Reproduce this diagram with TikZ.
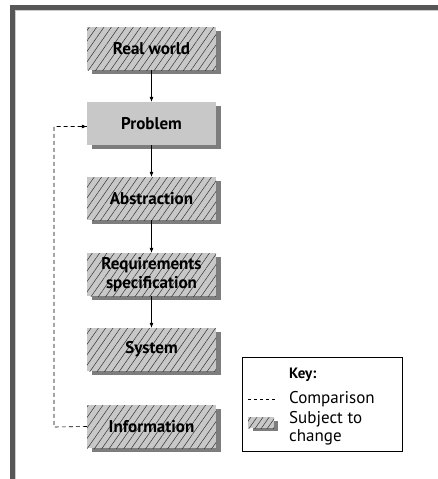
\documentclass[tikz,border=0pt]{standalone}
\usepackage{fontspec}
\setmainfont{PT Sans}
\usetikzlibrary{patterns.meta,arrows.meta,positioning}
\definecolor{framegray}{HTML}{575757}
\definecolor{boxgray}{HTML}{C8C8C8}
\definecolor{shadowgray}{HTML}{7D7D7D}
\tikzset{
  basebox/.style={minimum width=129pt, minimum height=43pt, inner sep=0pt, align=center,
    font=\bfseries\fontsize{17}{18.5}\selectfont},
  shad/.style={fill=shadowgray},
  hatchbox/.style={basebox, fill=boxgray, postaction={pattern={Lines[angle=55,distance=6pt,line width=0.5pt]}, pattern color=black!80}},
  plainbox/.style={basebox, fill=boxgray},
  flow/.style={draw=black, line width=0.6pt, -{Latex[length=5pt,width=4pt]}},
  cmp/.style={draw=black, line width=0.6pt, dash pattern=on 4pt off 3pt},
  keytext/.style={anchor=west, inner sep=0pt, align=left, font=\fontsize{17}{18}\selectfont}
}
\begin{document}
\begin{tikzpicture}[x=1pt,y=-1pt]
\useasboundingbox (0,0) rectangle (438,479);
% frame
\fill[framegray] (10,5) rectangle (438,9.5);
\fill[framegray] (10,5) rectangle (15,479);
\draw[black!20, line width=0.6pt] (15.3,9.8) -- (438,9.8);
\draw[black!20, line width=0.6pt] (15.3,9.8) -- (15.3,479);
% shadows
\foreach \t in {27,102,177,253,328,405}{
  \fill[shad] (92,\t+4) rectangle (221,\t+47);
}
% boxes
\node[hatchbox] (rw) at (151.5,48.5) {Real world};
\node[plainbox] (prob) at (151.5,123.5) {Problem};
\node[hatchbox] (abs) at (151.5,198.5) {Abstraction};
\node[hatchbox] (req) at (151.5,274.5) {Requirements\\specification};
\node[hatchbox] (sys) at (151.5,349.5) {System};
\node[hatchbox] (info) at (151.5,426.5) {Information};
% arrows
\draw[flow] (rw) -- (prob);
\draw[flow] (prob) -- (abs);
\draw[flow] (abs) -- (req);
\draw[flow] (req) -- (sys);
% comparison
\coordinate (cl) at (54,427);
\draw[cmp] (info.west) -- (cl) |- ([yshift=-3pt]prob.west);
\draw[flow] ([xshift=-6pt,yshift=-3pt]prob.west) -- ([yshift=-3pt]prob.west);
% key
\node[draw=black, line width=0.6pt, minimum width=160pt, minimum height=94pt, inner sep=0pt] (key) at (322,404) {};
\node[keytext, font=\bfseries\fontsize{15}{16}\selectfont] (keyt) at (289,375) {Key:};
\coordinate (ks) at (248,399);
\coordinate (ke) at (277,399);
\draw[black, line width=0.5pt, dash pattern=on 3pt off 3pt] (ks) -- (ke);
\node[keytext] (kc) at (289,399) {Comparison};
\fill[shad] (253,421) rectangle (278,431);
\path[fill=boxgray, postaction={pattern={Lines[angle=55,distance=5pt,line width=0.5pt]}, pattern color=black!80}] (248,417) rectangle (274,428);
\node[keytext] (ksub) at (289,428) {Subject to\\change};
\end{tikzpicture}
\end{document}
